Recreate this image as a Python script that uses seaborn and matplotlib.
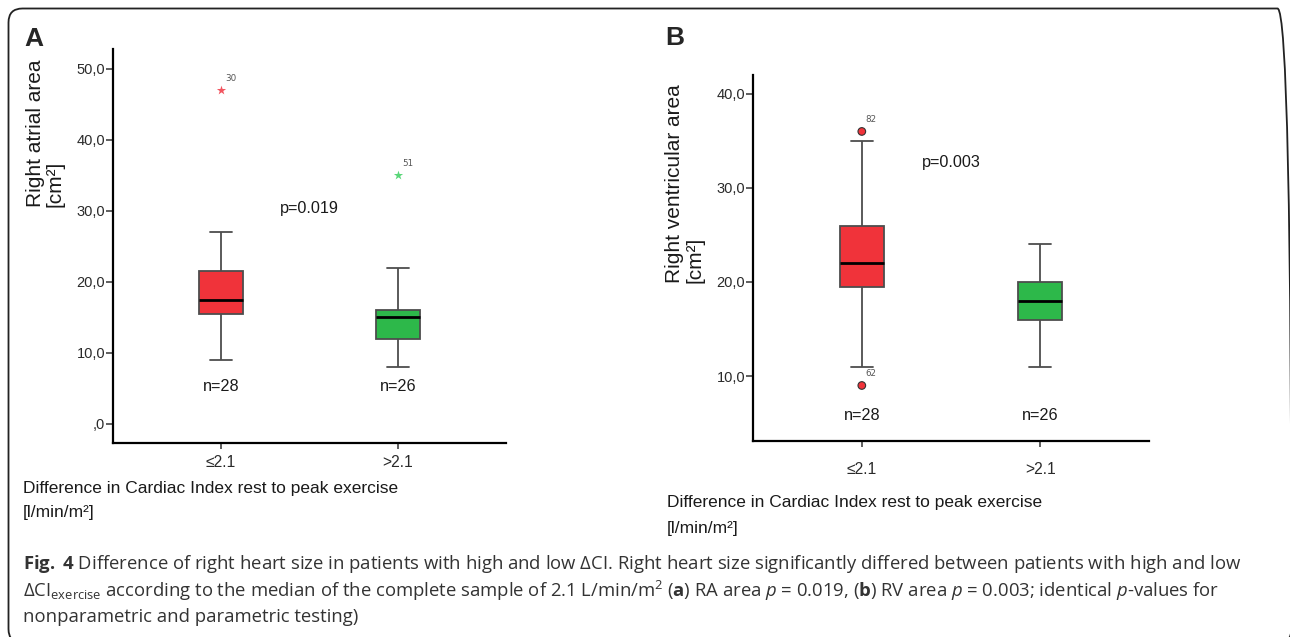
import numpy as np
import pandas as pd
import matplotlib
matplotlib.use("Agg")
import matplotlib.pyplot as plt
import seaborn as sns
from matplotlib import font_manager
from matplotlib.patches import FancyBboxPatch
from matplotlib.transforms import IdentityTransform

# ---------------- data ----------------
groups = ["≤2.1", ">2.1"]
n_labels = ["n=28", "n=26"]
# five-number summaries: lower whisker, Q1, median, Q3, upper whisker
ra_low = [9.0, 15.5, 17.5, 21.5, 27.0]
ra_high = [8.0, 12.0, 15.0, 16.0, 22.0]
rv_low = [11.0, 19.5, 22.0, 26.0, 35.0]
rv_high = [11.0, 16.0, 18.0, 20.0, 24.0]
# outliers (group, value, case number)
ra_out_group = ["≤2.1", ">2.1"]
ra_out_value = [47.0, 35.0]
ra_out_case = ["30", "51"]
rv_out_group = ["≤2.1", "≤2.1"]
rv_out_value = [36.0, 9.0]
rv_out_case = ["82", "62"]
ra_ticks = [0, 10, 20, 30, 40, 50]
ra_ticklabels = [",0", "10,0", "20,0", "30,0", "40,0", "50,0"]
rv_ticks = [10, 20, 30, 40]
rv_ticklabels = ["10,0", "20,0", "30,0", "40,0"]
p_labels = ["p=0.019", "p=0.003"]

box_colors = ["#F0333A", "#2DB84A"]
star_colors = ["#F25560", "#5AD679"]

# ---------------- style ----------------
sns.set_theme(style="white")
plt.rcParams["font.family"] = ["Liberation Sans", "DejaVu Sans"]
plt.rcParams["mathtext.fontset"] = "custom"
plt.rcParams["mathtext.rm"] = "Open Sans"
plt.rcParams["mathtext.it"] = "Open Sans:italic"
plt.rcParams["mathtext.bf"] = "Open Sans:bold"

installed = {f.name for f in font_manager.fontManager.ttflist}
if "Liberation Sans Narrow" in installed:
    NARROW = ["Liberation Sans Narrow", "DejaVu Sans"]
    nscale = 1.0
else:
    NARROW = ["Liberation Sans", "DejaVu Sans"]
    nscale = 0.9

W, H = 1290, 637
fig = plt.figure(figsize=(W / 100, H / 100), dpi=100)


def fx(x):
    return x / W


def fy(y):
    return 1 - y / H


def make_df(low, high):
    return pd.DataFrame({"group": [groups[0]] * len(low) + [groups[1]] * len(high),
                         "value": low + high})


def draw_panel(rect, low, high, og, ov, oc, marker, msize, ylim, ticks, ticklabels,
               n_y, p_xy, p_text, xpad, circle):
    ax = fig.add_axes(rect)
    df = make_df(low, high)
    sns.boxplot(data=df, x="group", y="value", hue="group", order=groups,
                hue_order=groups, palette=box_colors, saturation=1, width=0.25,
                whis=(0, 100), showfliers=False, linecolor="#4d4d4d", linewidth=1.3,
                medianprops=dict(color="black", linewidth=2.0),
                legend=False, ax=ax)
    odf = pd.DataFrame({"group": og, "value": ov})
    if circle:
        sns.stripplot(data=odf, x="group", y="value", hue="group", order=groups,
                      hue_order=groups, palette=box_colors, jitter=False, size=msize,
                      marker=marker, linewidth=0.8, edgecolor="#333333",
                      legend=False, ax=ax, zorder=5)
    else:
        sns.stripplot(data=odf, x="group", y="value", hue="group", order=groups,
                      hue_order=groups, palette=star_colors, jitter=False, size=msize,
                      marker=marker, linewidth=0, legend=False, ax=ax, zorder=5)
    for g, v, c in zip(og, ov, oc):
        ax.annotate(c, (groups.index(g), v), xytext=(4, 7), textcoords="offset pixels",
                    fontsize=6.3, color="#555555", family="DejaVu Sans",
                    ha="left", va="bottom")
    for i, n in enumerate(n_labels):
        ax.text(i, n_y, n, ha="center", va="center", fontsize=13 * nscale,
                family=NARROW, color="#1a1a1a")
    ax.text(p_xy[0], p_xy[1], p_text, ha="center", va="center", fontsize=13 * nscale,
            family=NARROW, color="#1a1a1a")
    ax.set_xlim(-0.61, 1.61)
    ax.set_ylim(*ylim)
    ax.set_yticks(ticks)
    ax.set_yticklabels(ticklabels, family=NARROW, fontsize=11.7 * nscale,
                       color="#2a2a2a")
    ax.set_xticks([0, 1])
    ax.set_xticklabels(groups, family=NARROW, fontsize=12.5 * nscale, color="#2a2a2a")
    ax.set_xlabel("")
    ax.set_ylabel("")
    for s in ["top", "right"]:
        ax.spines[s].set_visible(False)
    for s in ["left", "bottom"]:
        ax.spines[s].set_linewidth(1.6)
        ax.spines[s].set_color("black")
    ax.tick_params(axis="y", direction="out", length=5, width=1.1, color="#333333",
                   pad=0.5, left=True)
    ax.tick_params(axis="x", direction="out", length=4.5, width=1.1, color="#333333",
                   pad=xpad, bottom=True)
    ax.set_facecolor("white")
    ax.grid(False)
    return ax


# Panel A
axA = draw_panel([fx(113), fy(443), fx(506) - fx(113), fy(49) - fy(443)],
                 ra_low, ra_high, ra_out_group, ra_out_value, ra_out_case, "*", 7,
                 (-2.7, 52.8), ra_ticks, ra_ticklabels, 5.2, (0.5, 30.4), p_labels[0],
                 4.0, False)
# Panel B
axB = draw_panel([fx(753), fy(441), fx(1149) - fx(753), fy(75) - fy(441)],
                 rv_low, rv_high, rv_out_group, rv_out_value, rv_out_case, "o", 5.5,
                 (3.1, 42.0), rv_ticks, rv_ticklabels, 5.85, (0.5, 32.7), p_labels[1],
                 10.5, True)

# panel letters
fig.text(fx(33.5), fy(39), "A", fontsize=19, fontweight="bold", ha="center", va="center")
fig.text(fx(675), fy(38), "B", fontsize=19, fontweight="bold", ha="center", va="center")

# y labels
fig.text(fx(35.5), fy(207), "Right atrial area", rotation=90, fontsize=15,
         ha="center", va="bottom", color="#1a1a1a")
fig.text(fx(55), fy(207), "[cm²]", rotation=90, fontsize=15,
         ha="center", va="bottom", color="#1a1a1a")
fig.text(fx(675), fy(283), "Right ventricular area", rotation=90, fontsize=15,
         ha="center", va="bottom", color="#1a1a1a")
fig.text(fx(695), fy(283), "[cm²]", rotation=90, fontsize=15,
         ha="center", va="bottom", color="#1a1a1a")

# x labels
xlab = "Difference in Cardiac Index rest to peak exercise"
fig.text(fx(23), fy(488), xlab, fontsize=12.5, ha="left", va="center", color="#1a1a1a")
fig.text(fx(23), fy(513), "[l/min/m²]", fontsize=12.5, ha="left", va="center",
         color="#1a1a1a")
fig.text(fx(667), fy(503), xlab, fontsize=12.5, ha="left", va="center", color="#1a1a1a")
fig.text(fx(667), fy(528), "[l/min/m²]", fontsize=12.5, ha="left", va="center",
         color="#1a1a1a")

# caption
cap_kw = dict(fontsize=13.3, ha="left", va="center", color="#333333", family="Open Sans")
fig.text(fx(23), fy(564),
         r"$\mathbf{Fig.}$ $\mathbf{4}$ Difference of right heart size in patients with high and low ΔCI. "
         r"Right heart size significantly differed between patients with high and low",
         **cap_kw)
fig.text(fx(23), fy(591),
         r"ΔCI$_{\mathrm{exercise}}$ according to the median of the complete sample of 2.1 "
         r"L/min/m$^{2}$ ($\mathbf{a}$) RA area $\mathit{p}$ = 0.019, ($\mathbf{b}$) RV area "
         r"$\mathit{p}$ = 0.003; identical $\mathit{p}$-values for",
         **cap_kw)
fig.text(fx(23), fy(617), "nonparametric and parametric testing)", **cap_kw)

# rounded frame
frame = FancyBboxPatch((8.5, -6), 1283, H - 8.5 + 6, transform=IdentityTransform(),
                       boxstyle="round,pad=0,rounding_size=14", fill=False,
                       edgecolor="#222222", linewidth=1.3)
fig.add_artist(frame)

fig.savefig("out.png", dpi=100, facecolor="white")
